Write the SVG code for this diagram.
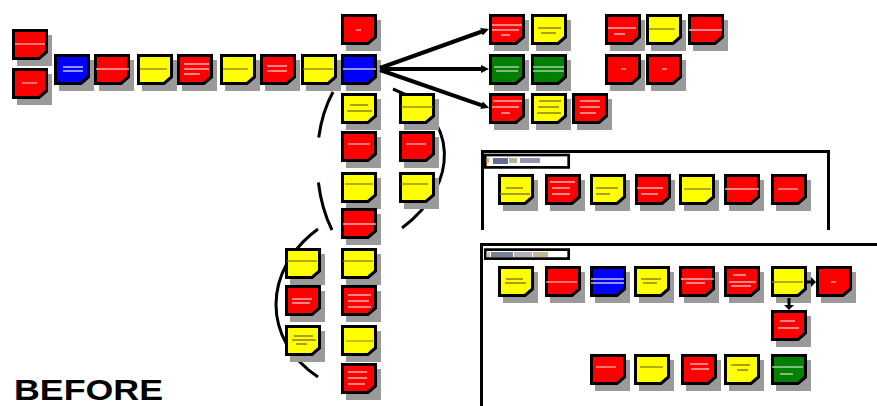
<svg xmlns="http://www.w3.org/2000/svg" xmlns:xlink="http://www.w3.org/1999/xlink" width="877" height="406" viewBox="0 0 877 406">
<style>
.r{fill:#ff0000}.y{fill:#ffff00}.b{fill:#0000ff}.g{fill:#008000}
.nb{stroke:#000;stroke-width:3;stroke-linejoin:miter}
.sr,.sy,.sb,.sg{fill:none;stroke-width:1.3}
.sr{stroke:#ffb0b0}.sy{stroke:#8a8020}.sb{stroke:#c0c0ff}.sg{stroke:#a8d0a8}
.frame{fill:none;stroke:#000;stroke-width:3}
.lbl{fill:#fff;stroke:#000;stroke-width:2.7}
.arc{fill:none;stroke:#000;stroke-width:3}
.arr{fill:none;stroke:#000;stroke-width:4}
.arr2{fill:none;stroke:#000;stroke-width:3}
.title{font-family:"Liberation Sans",Arial,sans-serif;font-weight:bold;font-size:30px;fill:#000}
</style>
<defs>
<rect id="sh" x="5" y="6" width="35" height="31" fill="#9a9a9a"/>
<path id="nb" class="nb" d="M1.5,1.5 H34.5 V23 L27,29.5 H1.5 Z"/>
<marker id="ah" viewBox="0 0 8 8" refX="2" refY="4" markerWidth="8" markerHeight="8" markerUnits="userSpaceOnUse" orient="auto"><path d="M0,0 L8,4 L0,8 Z" fill="#000"/></marker>
<marker id="ah2" viewBox="0 0 5 10" refX="1" refY="5" markerWidth="5" markerHeight="10" markerUnits="userSpaceOnUse" orient="auto"><path d="M0,0 L5,5 L0,10 Z" fill="#000"/></marker>
</defs>
<rect width="877" height="406" fill="#fff"/>

<!-- frames -->
<path class="frame" d="M482.5,230 V151.5 H828.5 V230"/>
<rect class="lbl" x="485.3" y="155" width="83.4" height="12.4"/>
<g opacity="0.7"><rect x="486" y="158" width="3" height="5" fill="#d08030"/><rect x="493" y="158" width="15" height="6" fill="#203060"/><rect x="509" y="158" width="8" height="5" fill="#a09070"/><rect x="520" y="158" width="20" height="5" fill="#606890"/></g>
<path class="frame" d="M481.5,406 V244.5 H877"/>
<rect class="lbl" x="485.3" y="249.6" width="83.4" height="9"/>
<g opacity="0.65"><rect x="486" y="252" width="4" height="5" fill="#a0a0b0"/><rect x="491" y="252" width="22" height="5" fill="#304060"/><rect x="514" y="252" width="18" height="5" fill="#8a8a90"/><rect x="533" y="252" width="15" height="5" fill="#a09060"/></g>

<!-- nodes drawn beneath connectors -->
<g id="n1" transform="translate(12,29)"><use href="#sh"/><use href="#nb" class="r"/><path class="sr" d="M3,15H33"/></g>
<g id="n2" transform="translate(12,68)"><use href="#sh"/><use href="#nb" class="r"/><path class="sr" d="M10,15H25"/></g>
<g id="n3" transform="translate(54,54)"><use href="#sh"/><use href="#nb" class="b"/><path class="sb" d="M9,13H29M9,17H29"/></g>
<g id="n4" transform="translate(94,54)"><use href="#sh"/><use href="#nb" class="r"/><path class="sr" d="M2,15H35"/></g>
<g id="n5" transform="translate(137,54)"><use href="#sh"/><use href="#nb" class="y"/><path class="sy" d="M3,15H30"/></g>
<g id="n6" transform="translate(177,54)"><use href="#sh"/><use href="#nb" class="r"/><path class="sr" d="M7,10H32M7,15H32M7,20H23"/></g>
<g id="n7" transform="translate(220,54)"><use href="#sh"/><use href="#nb" class="y"/><path class="sy" d="M3,15H28"/></g>
<g id="n8" transform="translate(260,54)"><use href="#sh"/><use href="#nb" class="r"/><path class="sr" d="M7,12H27M7,17H27"/></g>
<g id="n9" transform="translate(301,54)"><use href="#sh"/><use href="#nb" class="y"/><path class="sy" d="M2,15H32"/></g>
<g id="n10" transform="translate(341,14)"><use href="#sh"/><use href="#nb" class="r"/><path class="sr" d="M15,16H20"/></g>
<g id="n11" transform="translate(341,54)"><use href="#sh"/><use href="#nb" class="b"/><path class="sb" d="M2,15H35"/></g>
<g id="n12" transform="translate(341,93)"><use href="#sh"/><use href="#nb" class="y"/><path class="sy" d="M9,12H27M6,18H31"/></g>
<g id="n13" transform="translate(341,131)"><use href="#sh"/><use href="#nb" class="r"/><path class="sr" d="M7,13H29"/></g>
<g id="n14" transform="translate(341,172)"><use href="#sh"/><use href="#nb" class="y"/><path class="sy" d="M4,12H32"/></g>
<g id="n15" transform="translate(341,208)"><use href="#sh"/><use href="#nb" class="r"/><path class="sr" d="M2,16H35"/></g>
<g id="n16" transform="translate(341,248)"><use href="#sh"/><use href="#nb" class="y"/><path class="sy" d="M2,13H32"/></g>
<g id="n17" transform="translate(341,285)"><use href="#sh"/><use href="#nb" class="r"/><path class="sr" d="M7,10H30M7,16H28M7,22H30"/></g>
<g id="n18" transform="translate(341,325)"><use href="#sh"/><use href="#nb" class="y"/><path class="sy" d="M5,16H34" style="stroke-width:1"/></g>
<g id="n19" transform="translate(341,363)"><use href="#sh"/><use href="#nb" class="r"/><path class="sr" d="M7,9H26M7,15H26M7,21H24"/></g>
<g id="n24" transform="translate(285,285)"><use href="#sh"/><use href="#nb" class="r"/><path class="sr" d="M7,14H27M7,18H25"/></g>
<g id="n26" transform="translate(489,14)"><use href="#sh"/><use href="#nb" class="r"/><path class="sr" d="M3,11H33M3,16H30M12,21H21"/></g>
<g id="n27" transform="translate(531,14)"><use href="#sh"/><use href="#nb" class="y"/><path class="sy" d="M7,14H30M10,19H25"/></g>
<g id="n31" transform="translate(489,54)"><use href="#sh"/><use href="#nb" class="g"/><path class="sg" d="M5,13H30M7,17H29"/></g>
<g id="n32" transform="translate(531,54)"><use href="#sh"/><use href="#nb" class="g"/><path class="sg" d="M2,13H33M2,17H33"/></g>
<g id="n28" transform="translate(489,93)"><use href="#sh"/><use href="#nb" class="r"/><path class="sr" d="M4,8H33M3,14H30M12,20H21"/></g>
<g id="n29" transform="translate(531,93)"><use href="#sh"/><use href="#nb" class="y"/><path class="sy" d="M8,8H30M7,14H28M6,20H30"/></g>
<g id="n30" transform="translate(572,93)"><use href="#sh"/><use href="#nb" class="r"/><path class="sr" d="M8,8H28M8,14H28M8,20H24"/></g>
<g id="n33" transform="translate(605,14)"><use href="#sh"/><use href="#nb" class="r"/><path class="sr" d="M3,14H31M9,20H20"/></g>
<g id="n34" transform="translate(646,14)"><use href="#sh"/><use href="#nb" class="y"/><path class="sy" d="M3,15H29"/></g>
<g id="n35" transform="translate(688,14)"><use href="#sh"/><use href="#nb" class="r"/><path class="sr" d="M1,16H34"/></g>
<g id="n36" transform="translate(605,54)"><use href="#sh"/><use href="#nb" class="r"/><path class="sr" d="M16,15H21"/></g>
<g id="n37" transform="translate(646,54)"><use href="#sh"/><use href="#nb" class="r"/><path class="sr" d="M16,15H21"/></g>

<g id="b1" transform="translate(498,174)"><use href="#sh"/><use href="#nb" class="y"/><path class="sy" d="M8,14H25M2,20H32"/></g>
<g id="b2" transform="translate(545,174)"><use href="#sh"/><use href="#nb" class="r"/><path class="sr" d="M5,8H30M7,14H25M7,20H25"/></g>
<g id="b3" transform="translate(590,174)"><use href="#sh"/><use href="#nb" class="y"/><path class="sy" d="M6,14H28M6,20H20"/></g>
<g id="b4" transform="translate(635,174)"><use href="#sh"/><use href="#nb" class="r"/><path class="sr" d="M2,14H28M6,20H23"/></g>
<g id="b5" transform="translate(679,174)"><use href="#sh"/><use href="#nb" class="y"/><path class="sy" d="M5,15H32"/></g>
<g id="b6" transform="translate(724,174)"><use href="#sh"/><use href="#nb" class="r"/><path class="sr" d="M1,15H35"/></g>
<g id="b7" transform="translate(771,174)"><use href="#sh"/><use href="#nb" class="r"/><path class="sr" d="M7,15H27"/></g>

<g id="c1" transform="translate(498,266)"><use href="#sh"/><use href="#nb" class="y"/><path class="sy" d="M8,13H25M7,17H28"/></g>
<g id="c2" transform="translate(545,266)"><use href="#sh"/><use href="#nb" class="r"/><path class="sr" d="M1,16H32"/></g>
<g id="c3" transform="translate(590,266)"><use href="#sh"/><use href="#nb" class="b"/><path class="sb" d="M1,13H34M1,17H34"/></g>
<g id="c4" transform="translate(634,266)"><use href="#sh"/><use href="#nb" class="y"/><path class="sy" d="M7,13H27M9,17H23"/></g>
<g id="c5" transform="translate(679,266)"><use href="#sh"/><use href="#nb" class="r"/><path class="sr" d="M2,13H35M7,17H26"/></g>
<g id="c6" transform="translate(724,266)"><use href="#sh"/><use href="#nb" class="r"/><path class="sr" d="M9,9H22M5,16H32M7,20H27"/></g>
<g id="c7" transform="translate(771,266)"><use href="#sh"/><use href="#nb" class="y"/><path class="sy" d="M1,16H32"/></g>
<g id="c8" transform="translate(816,266)"><use href="#sh"/><use href="#nb" class="r"/><path class="sr" d="M15,16H20"/></g>
<g id="c9" transform="translate(771,310)"><use href="#sh"/><use href="#nb" class="r"/><path class="sr" d="M9,11H24M7,18H28"/></g>
<g id="d1" transform="translate(590,354)"><use href="#sh"/><use href="#nb" class="r"/><path class="sr" d="M6,13H26"/></g>
<g id="d2" transform="translate(634,354)"><use href="#sh"/><use href="#nb" class="y"/><path class="sy" d="M6,13H29"/></g>
<g id="d3" transform="translate(681,354)"><use href="#sh"/><use href="#nb" class="r"/><path class="sr" d="M9,10H27M10,15H28"/></g>
<g id="d4" transform="translate(724,354)"><use href="#sh"/><use href="#nb" class="y"/><path class="sy" d="M7,11H26M13,16H24"/></g>
<g id="d5" transform="translate(771,354)"><use href="#sh"/><use href="#nb" class="g"/><path class="sg" d="M1,13H32M9,20H22"/></g>

<!-- connectors -->
<g id="connectors">
<path class="arr" d="M380,68 L483.3,31" marker-end="url(#ah)"/>
<path class="arr" d="M380,69 L483,69" marker-end="url(#ah)"/>
<path class="arr" d="M380,70 L483.4,105.9" marker-end="url(#ah)"/>
<path class="arc" d="M333,92 C312,130 312,190 332,230" stroke-dasharray="48 45 60"/>
<path class="arc" d="M393,89 C460,115 460,185 402,228"/>
<path class="arc" d="M318,229 C262,270 262,340 318,377"/>
<path class="arr2" d="M806,282 H812" marker-end="url(#ah2)"/>
<path class="arr2" d="M789,298 V306" marker-end="url(#ah2)"/>
</g>

<!-- nodes drawn above arcs -->
<g id="n20" transform="translate(399,93)"><use href="#sh"/><use href="#nb" class="y"/><path class="sy" d="M2,14H34"/></g>
<g id="n21" transform="translate(399,131)"><use href="#sh"/><use href="#nb" class="r"/><path class="sr" d="M7,13H27"/></g>
<g id="n22" transform="translate(399,172)"><use href="#sh"/><use href="#nb" class="y"/><path class="sy" d="M2,12H29"/></g>
<g id="n23" transform="translate(285,248)"><use href="#sh"/><use href="#nb" class="y"/><path class="sy" d="M2,13H32"/></g>
<g id="n25" transform="translate(285,325)"><use href="#sh"/><use href="#nb" class="y"/><path class="sy" d="M9,11H28M7,15H31M11,19H22"/></g>

<text class="title" x="14" y="400" textLength="149" lengthAdjust="spacingAndGlyphs">BEFORE</text>
</svg>
